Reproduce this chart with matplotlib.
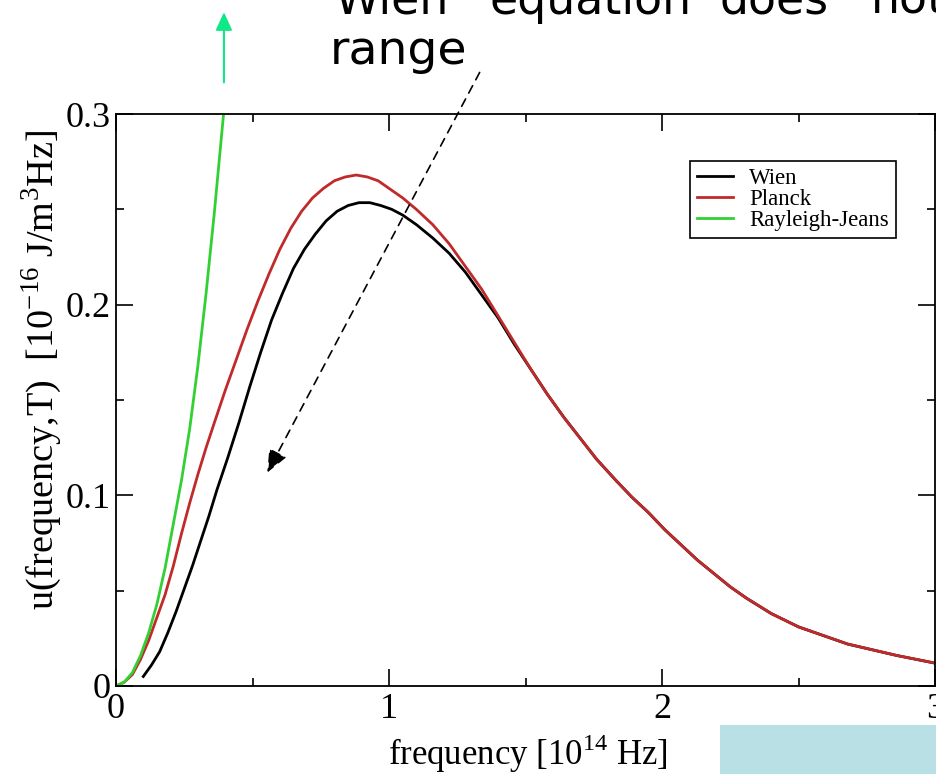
import numpy as np
import matplotlib
matplotlib.use('Agg')
import matplotlib.pyplot as plt
from matplotlib.ticker import MultipleLocator, FixedLocator, FixedFormatter
from matplotlib.patches import Rectangle, FancyArrowPatch

# frequency in 1e14 Hz, u in 1e-16 J/m^3Hz
nu_planck = [0.00, 0.03, 0.06, 0.09, 0.12, 0.15, 0.18, 0.21, 0.24, 0.27, 0.30, 0.33,
             0.36, 0.40, 0.44, 0.48, 0.52, 0.56, 0.60, 0.64, 0.68, 0.72, 0.76, 0.80,
             0.84, 0.88, 0.92, 0.96, 1.00, 1.05, 1.10, 1.16, 1.22, 1.28, 1.34, 1.40,
             1.46, 1.52, 1.58, 1.64, 1.70, 1.76, 1.83, 1.89, 1.95, 2.01, 2.07, 2.13,
             2.19, 2.25, 2.31, 2.40, 2.50, 2.60, 2.68, 2.77, 2.86, 2.93, 3.00]
u_planck = [0.000, 0.002, 0.006, 0.014, 0.024, 0.036, 0.048, 0.063, 0.080, 0.096, 0.111, 0.125,
            0.138, 0.155, 0.171, 0.187, 0.202, 0.216, 0.229, 0.240, 0.249, 0.256, 0.261, 0.265,
            0.267, 0.268, 0.267, 0.265, 0.261, 0.256, 0.250, 0.242, 0.232, 0.220, 0.208, 0.194,
            0.180, 0.166, 0.153, 0.141, 0.130, 0.119, 0.108, 0.099, 0.091, 0.082, 0.074, 0.066,
            0.059, 0.052, 0.046, 0.038, 0.031, 0.026, 0.022, 0.019, 0.016, 0.014, 0.012]

nu_wien = [0.10, 0.13, 0.16, 0.19, 0.22, 0.25, 0.28, 0.31, 0.34, 0.37, 0.41, 0.45,
           0.49, 0.53, 0.57, 0.61, 0.65, 0.69, 0.73, 0.77, 0.81, 0.85, 0.89, 0.93,
           0.97, 1.01, 1.05, 1.10, 1.16, 1.22, 1.28, 1.34, 1.40, 1.46, 1.52, 1.58,
           1.64, 1.70, 1.76, 1.83, 1.89, 1.95, 2.01, 2.07, 2.13, 2.19, 2.25, 2.31,
           2.40, 2.50, 2.60, 2.68, 2.77, 2.86, 2.93, 3.00]
u_wien = [0.005, 0.011, 0.018, 0.028, 0.039, 0.051, 0.063, 0.076, 0.089, 0.103, 0.120, 0.138,
          0.157, 0.175, 0.192, 0.206, 0.219, 0.229, 0.237, 0.244, 0.249, 0.252, 0.2535, 0.2535,
          0.252, 0.250, 0.247, 0.242, 0.235, 0.227, 0.217, 0.205, 0.193, 0.179, 0.166, 0.153,
          0.141, 0.130, 0.119, 0.108, 0.099, 0.091, 0.082, 0.074, 0.066, 0.059, 0.052, 0.046,
          0.038, 0.031, 0.026, 0.022, 0.019, 0.016, 0.014, 0.012]

nu_rj = [0.00, 0.03, 0.06, 0.09, 0.12, 0.15, 0.18, 0.21, 0.24, 0.27, 0.30, 0.33, 0.36, 0.394]
u_rj = [0.000, 0.002, 0.007, 0.016, 0.028, 0.043, 0.062, 0.085, 0.108, 0.135, 0.168, 0.206,
        0.248, 0.300]

x_ticks = [0, 1, 2, 3]
x_labels = ['0', '1', '2', '3']
y_ticks = [0, 0.1, 0.2, 0.3]
y_labels = ['0', '0.1', '0.2', '0.3']

plt.rcParams['font.family'] = ['Liberation Serif', 'DejaVu Serif']
plt.rcParams['mathtext.fontset'] = 'custom'
plt.rcParams['mathtext.rm'] = 'Liberation Serif'

fig = plt.figure(figsize=(9.37, 7.74), dpi=100)
ax = fig.add_axes([0.1238, 0.1137, 0.8741, 0.739])

ax.plot(nu_wien, u_wien, color='black', lw=2, label='Wien')
ax.plot(nu_planck, u_planck, color='#c02a2a', lw=2, label='Planck')
ax.plot(nu_rj, u_rj, color='#33d033', lw=2, label='Rayleigh-Jeans')

ax.set_xlim(0, 3)
ax.set_ylim(0, 0.3)
ax.xaxis.set_major_locator(FixedLocator(x_ticks))
ax.xaxis.set_major_formatter(FixedFormatter(x_labels))
ax.yaxis.set_major_locator(FixedLocator(y_ticks))
ax.yaxis.set_major_formatter(FixedFormatter(y_labels))
ax.xaxis.set_minor_locator(MultipleLocator(0.5))
ax.yaxis.set_minor_locator(MultipleLocator(0.05))
ax.tick_params(which='both', direction='in', top=True, right=True, width=1.2)
ax.tick_params(which='major', length=12, labelsize=26)
ax.tick_params(axis='y', which='major', pad=4)
ax.tick_params(axis='x', which='major', pad=5)
ax.tick_params(which='minor', length=6)
for s in ax.spines.values():
    s.set_linewidth(1.3)

ax.set_xlabel(r'frequency [10$^{\mathregular{14}}$ Hz]', fontsize=25)
ax.set_ylabel(r'u(frequency,T)  [10$^{\mathregular{-16}}$ J/m$^{\mathregular{3}}$Hz]', fontsize=27.5)
ax.xaxis.set_label_coords(0.503, -0.08)
ax.yaxis.set_label_coords(-0.064, 0.552)

leg = ax.legend(loc='upper right', bbox_to_anchor=(0.9524, 0.918), borderaxespad=0,
                fontsize=16.5, fancybox=False, edgecolor='black', framealpha=1,
                handlelength=1.6, handletextpad=0.7, labelspacing=0.0, borderpad=0.3)
leg.get_frame().set_linewidth(1.2)

# slide annotations around the chart
for word, xpos in [('Wien', 0.3565), ('equation', 0.522), ('does', 0.768), ('not', 0.9296)]:
    fig.text(xpos, 0.982, word, family='DejaVu Sans', fontsize=33, va='baseline')
fig.text(0.3522, 0.9173, 'range', family='DejaVu Sans', fontsize=34, va='baseline')

fig.add_artist(FancyArrowPatch(
    (0.239, 0.890), (0.239, 0.988), transform=fig.transFigure,
    arrowstyle='-|>,head_length=11,head_width=5', color='#10e888', lw=1.5))
fig.add_artist(FancyArrowPatch(
    (0.5133, 0.9096), (0.2839, 0.3863), transform=fig.transFigure,
    arrowstyle='-|>,head_length=14,head_width=6', color='black', lw=1.2,
    linestyle=(0, (5, 4))))
fig.add_artist(Rectangle((0.768, 0.0), 0.232, 0.063, transform=fig.transFigure,
                         facecolor='#b9e0e4', edgecolor='none'))

plt.savefig('out.png', dpi=100)
